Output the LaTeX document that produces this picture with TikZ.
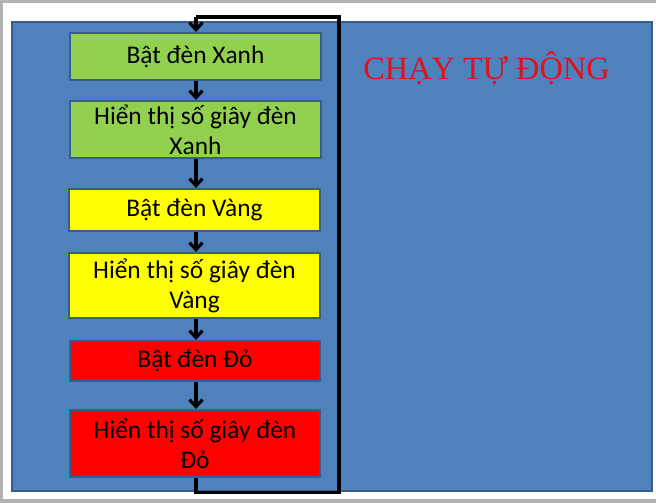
\documentclass[tikz,border=0pt]{standalone}
\usepackage{fontspec}
\setmainfont{Carlito}
\newfontfamily\titlefont{Liberation Serif}
\usetikzlibrary{arrows.meta}
\definecolor{slideblue}{RGB}{79,129,189}
\definecolor{slideedge}{RGB}{56,93,138}
\definecolor{boxgreen}{RGB}{146,208,80}
\definecolor{boxyellow}{RGB}{255,255,0}
\definecolor{boxred}{RGB}{255,0,0}
\definecolor{titlered}{RGB}{226,16,26}
\definecolor{framegray}{RGB}{178,178,178}
\tikzset{
  stepbox/.style={draw=slideedge, line width=2bp, minimum width=250bp, inner sep=0pt,
    align=center, font=\fontsize{25.5}{30}\selectfont, text=black},
  flow/.style={draw=black, line width=3.2bp, -{Straight Barb[length=7bp,width=13bp]}},
  loopline/.style={draw=black, line width=3.2bp}
}
\begin{document}
\begin{tikzpicture}[x=1bp,y=-1bp]
\useasboundingbox (0,0) rectangle (656,503);
\fill[white] (0,0) rectangle (656,503);
\fill[framegray] (0,0) rectangle (656,3);
\fill[framegray] (0,0) rectangle (3,503);
\fill[framegray] (0,499) rectangle (656,503);
\filldraw[fill=slideblue, draw=slideedge, line width=2bp] (12,22) rectangle (652,491);

\node[text=titlered, font=\titlefont\fontsize{32.5}{36}\selectfont, anchor=base] (title) at (486.5,79.5) {CHẠY TỰ ĐỘNG};

\node[stepbox, fill=boxgreen, minimum height=47bp] (b1) at (195.5,56.5) {Bật đèn Xanh};
\node[stepbox, fill=boxgreen, minimum height=57bp] (b2) at (195.5,129.5) {Hiển thị số giây đèn\\Xanh};
\node[stepbox, fill=boxyellow, minimum height=42bp] (b3) at (194.5,210) {Bật đèn Vàng};
\node[stepbox, fill=boxyellow, minimum height=65bp] (b4) at (194.5,285.5) {Hiển thị số giây đèn\\Vàng};
\node[stepbox, fill=boxred, minimum height=40bp] (b5) at (195,361) {Bật đèn Đỏ};
\node[stepbox, fill=boxred, minimum height=67bp] (b6) at (195,443.5) {Hiển thị số giây đèn\\Đỏ};

\coordinate (l1) at (196,492.5);
\coordinate (l2) at (339,492.5);
\coordinate (l3) at (339,17);
\coordinate (l4) at (196,17);

\draw[flow] (b1.south -| l4) -- (b2.north -| l4);
\draw[flow] (b2.south -| l4) -- (b3.north -| l4);
\draw[flow] (b3.south -| l4) -- (b4.north -| l4);
\draw[flow] (b4.south -| l4) -- (b5.north -| l4);
\draw[flow] (b5.south -| l4) -- (b6.north -| l4);
\draw[loopline] (b6.south -| l1) -- (l1) -- (l2) -- (l3) -- (l4);
\draw[flow] (l4) -- (b1.north -| l4);
\end{tikzpicture}
\end{document}
